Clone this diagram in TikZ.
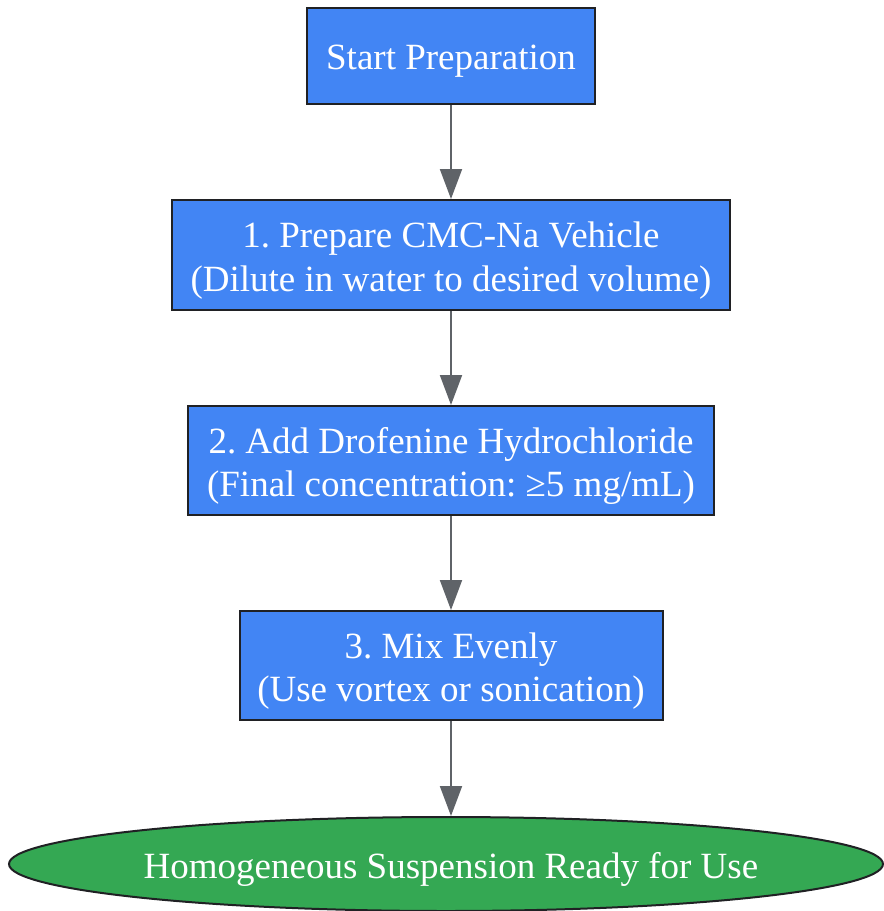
\documentclass[tikz,border=0pt]{standalone}
\usepackage{fontspec}
\setmainfont{Liberation Serif}
\frenchspacing
\usetikzlibrary{arrows.meta,shapes.geometric}
\definecolor{boxblue}{HTML}{4285F4}
\definecolor{endgreen}{HTML}{34A853}
\definecolor{edgedark}{HTML}{202124}
\definecolor{arrowgrey}{HTML}{5F6368}
\begin{document}
\begin{tikzpicture}[x=1pt,y=1pt,
  stepbox/.style={draw=edgedark, line width=2pt, fill=boxblue, inner sep=0pt},
  endnode/.style={ellipse, draw=edgedark, line width=2pt, fill=endgreen, inner sep=0pt},
  lbl/.style={text=white, align=center, inner sep=0pt, font=\fontsize{37}{43.5}\selectfont},
  flow/.style={draw=arrowgrey, line width=2pt, -{Triangle[length=30pt,width=22pt]}}]
\useasboundingbox (0,0) rectangle (884,-911);
\node[stepbox, minimum width=288pt, minimum height=96pt] (s) at (451,-56) {};
\node[stepbox, minimum width=558pt, minimum height=110pt] (b1) at (451,-255) {};
\node[stepbox, minimum width=526pt, minimum height=109pt] (b2) at (451,-460.5) {};
\node[stepbox, minimum width=423pt, minimum height=109pt] (b3) at (451,-665.5) {};
\node[endnode, minimum width=874pt, minimum height=94pt] (e) at (446,-864) {};
\node[lbl] (st) at ([yshift=-5.5pt]s.center) {Start Preparation};
\node[lbl] (b1t) at ([yshift=-5.5pt]b1.center) {1. Prepare CMC-Na Vehicle\\(Dilute in water to desired volume)};
\node[lbl] (b2t) at ([yshift=-5.5pt]b2.center) {2. Add Drofenine Hydrochloride\\(Final concentration: ≥5 mg/mL)};
\node[lbl] (b3t) at ([yshift=-5.5pt]b3.center) {3. Mix Evenly\\(Use vortex or sonication)};
\node[lbl] (et) at ([xshift=5pt,yshift=-5pt]e.center) {Homogeneous Suspension Ready for Use};
\draw[flow] (s.south) -- (b1.north);
\draw[flow] (b1.south) -- (b2.north);
\draw[flow] (b2.south) -- (b3.north);
\draw[flow] (b3.south) -- (b3.south |- e.north);
\end{tikzpicture}
\end{document}
